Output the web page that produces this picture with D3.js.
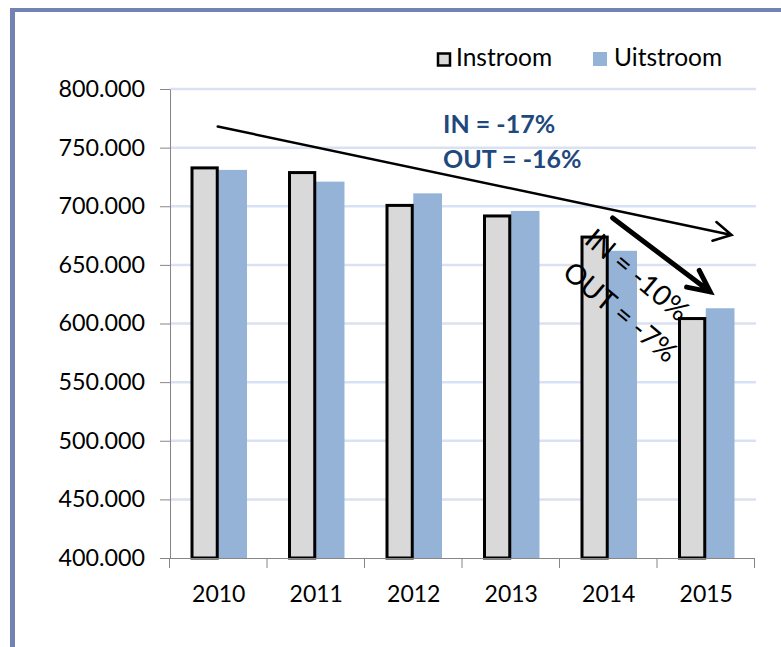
<!DOCTYPE html>
<html>
<head>
<meta charset="utf-8">
<script src="https://cdn.jsdelivr.net/npm/d3@7"></script>
<style>
  body { margin: 0; background: #fff; }
  svg { display: block; font-family: Lato, "Open Sans", sans-serif; }
</style>
</head>
<body>
<svg id="chart" width="781" height="647"></svg>
<script>
// values
const years = ["2010", "2011", "2012", "2013", "2014", "2015"];
const seriesNames = ["Instroom", "Uitstroom"];
const instroom = [734000, 730000, 702000, 693000, 675000, 605500];
const uitstroom = [731000, 721000, 711000, 696000, 662000, 613000];
const yTicks = [400000, 450000, 500000, 550000, 600000, 650000, 700000, 750000, 800000];

// annotation arrows, given as [category index, value]
const arrows = [
  { from: [0.49, 768000], to: [5.76, 675500], width: 2.5, head: 20, spread: 0.5 },
  { from: [4.54, 690000], to: [5.54, 627000], width: 5, head: 24, spread: 0.45 }
];

const svg = d3.select('#chart');
const plotLeft = 170, plotRight = 755, plotTop = 89, plotBottom = 558;

const nl = d3.formatLocale({ decimal: ",", thousands: ".", grouping: [3], currency: ["€", ""] });
const fmt = nl.format(",d");

const x0 = d3.scaleBand().domain(years).range([plotLeft, plotRight]).padding(0);
const x1 = d3.scaleBand().domain(seriesNames).range([20.5, x0.bandwidth() - 20.5]);
const xi = d3.scaleLinear().domain([0, years.length]).range([plotLeft, plotRight]);
const y = d3.scaleLinear().domain([400000, 800000]).range([plotBottom, plotTop]);

// frame
svg.append('rect').attr('x', 10).attr('y', 8).attr('width', 771).attr('height', 4).attr('fill', '#7282b2');
svg.append('rect').attr('x', 10).attr('y', 8).attr('width', 5).attr('height', 639).attr('fill', '#7282b2');

// gridlines
svg.append('g')
  .selectAll('line')
  .data(yTicks.filter(d => d > 400000))
  .join('line')
  .attr('x1', plotLeft).attr('x2', plotRight + 1)
  .attr('y1', d => y(d)).attr('y2', d => y(d))
  .attr('stroke', '#d9e2f2')
  .attr('stroke-width', 2.5);

// bars
const rows = years.map((yr, i) => ({ year: yr, Instroom: instroom[i], Uitstroom: uitstroom[i] }));
const groups = svg.append('g').selectAll('g')
  .data(rows)
  .join('g')
  .attr('transform', d => `translate(${x0(d.year)},0)`);

groups.append('rect')
  .attr('x', x1('Uitstroom') - 0.5)
  .attr('y', d => y(d.Uitstroom))
  .attr('width', x1.bandwidth() + 0.5)
  .attr('height', d => plotBottom - y(d.Uitstroom))
  .attr('fill', '#95b3d7');

groups.append('rect')
  .attr('x', x1('Instroom') + 1.5)
  .attr('y', d => y(d.Instroom) + 1.5)
  .attr('width', x1.bandwidth() - 3)
  .attr('height', d => plotBottom - y(d.Instroom) - 1.5)
  .attr('fill', '#d9d9d9')
  .attr('stroke', '#000')
  .attr('stroke-width', 3);

// y axis
const yAxis = svg.append('g')
  .attr('transform', `translate(${plotLeft},0)`)
  .call(d3.axisLeft(y).tickValues(yTicks).tickFormat(fmt).tickSize(10).tickSizeOuter(0).tickPadding(15));
yAxis.selectAll('path, line').attr('stroke', '#868686');
yAxis.selectAll('text').attr('font-size', 23.3).attr('font-family', 'Lato').attr('fill', '#000');

// x axis
svg.append('line')
  .attr('x1', plotLeft - 1).attr('x2', plotRight)
  .attr('y1', plotBottom + 0.5).attr('y2', plotBottom + 0.5)
  .attr('stroke', '#868686');
svg.append('g')
  .selectAll('line')
  .data(d3.range(years.length + 1))
  .join('line')
  .attr('x1', d => xi(d) - 0.5).attr('x2', d => xi(d) - 0.5)
  .attr('y1', plotBottom).attr('y2', plotBottom + 10)
  .attr('stroke', '#868686');
svg.append('g')
  .selectAll('text')
  .data(years)
  .join('text')
  .attr('x', d => x0(d) + x0.bandwidth() / 2)
  .attr('y', 602)
  .attr('text-anchor', 'middle')
  .attr('font-size', 23)
  .attr('fill', '#000')
  .text(d => d);

// legend
const legend = svg.append('g');
legend.append('rect').attr('x', 438).attr('y', 53.5).attr('width', 12).attr('height', 12)
  .attr('fill', '#d9d9d9').attr('stroke', '#000').attr('stroke-width', 2.5);
legend.append('text').attr('x', 456).attr('y', 66).attr('font-size', 24.5).text(seriesNames[0]);
legend.append('rect').attr('x', 593).attr('y', 52).attr('width', 14).attr('height', 14).attr('fill', '#95b3d7');
legend.append('text').attr('x', 614).attr('y', 66).attr('font-size', 24.5).text(seriesNames[1]);

// arrows
arrows.forEach(a => {
  const xa = xi(a.from[0]), ya = y(a.from[1]);
  const xb = xi(a.to[0]), yb = y(a.to[1]);
  const ang = Math.atan2(yb - ya, xb - xa);
  const arm = s => [xb - a.head * Math.cos(ang + s), yb - a.head * Math.sin(ang + s)];
  const p = d3.path();
  p.moveTo(xa, ya); p.lineTo(xb, yb);
  const [ax, ay] = arm(a.spread), [bx, by] = arm(-a.spread);
  p.moveTo(ax, ay); p.lineTo(xb, yb); p.lineTo(bx, by);
  svg.append('path').attr('d', p.toString())
    .attr('fill', 'none').attr('stroke', '#000')
    .attr('stroke-width', a.width).attr('stroke-linejoin', 'miter').attr('stroke-linecap', 'round');
});

// annotation texts
svg.append('text').attr('x', xi(2.8)).attr('y', y(762500))
  .attr('font-size', 25).attr('font-weight', 'bold').attr('fill', '#1f497d').text('IN = -17%');
svg.append('text').attr('x', xi(2.8)).attr('y', y(732600))
  .attr('font-size', 25).attr('font-weight', 'bold').attr('fill', '#1f497d').text('OUT = -16%');

[
  { label: 'IN = -10%', at: [638, 274] },
  { label: 'OUT = -7%', at: [621, 311] }
].forEach(t => {
  svg.append('text')
    .attr('transform', `translate(${t.at[0]},${t.at[1]}) rotate(40)`)
    .attr('text-anchor', 'middle')
    .attr('dominant-baseline', 'central')
    .attr('font-size', 28)
    .attr('fill', '#000')
    .text(t.label);
});
</script>
</body>
</html>
